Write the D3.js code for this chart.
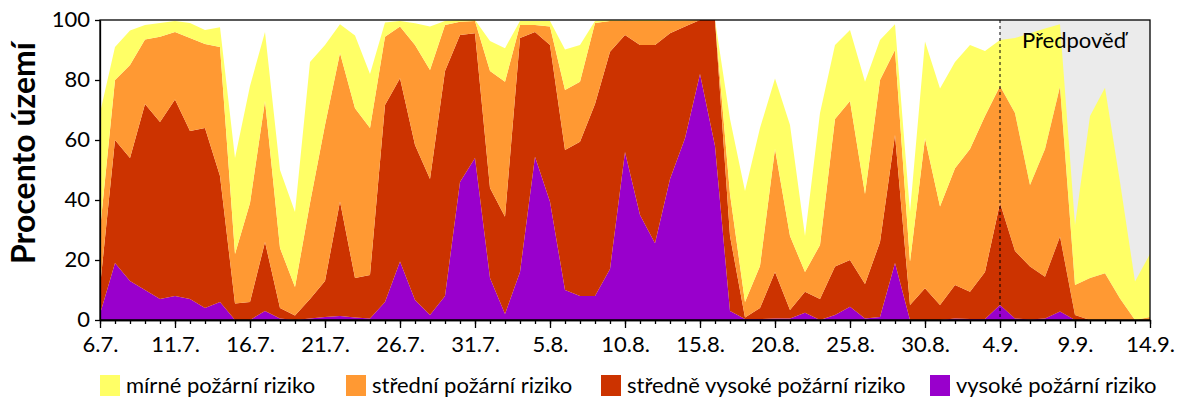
<!DOCTYPE html>
<html>
<head>
<meta charset="utf-8">
<script src="https://cdn.jsdelivr.net/npm/d3@7"></script>
<style>
    body { margin: 0; background: #fff; }
    #chart { width: 1200px; height: 400px; }
    text { font-family: Lato, Carlito, Calibri, sans-serif; fill: #000; }
</style>
</head>
<body>
<div id="chart"></div>
<script>
// first day, last day and start of the forecast (d.m.)
const startDay = "6.7.";
const endDay = "14.9.";
const forecastDay = "4.9.";

const tickLabels = ["6.7.", "11.7.", "16.7.", "21.7.", "26.7.", "31.7.", "5.8.", "10.8.",
    "15.8.", "20.8.", "25.8.", "30.8.", "4.9.", "9.9.", "14.9."];
const yTicks = [0, 20, 40, 60, 80, 100];

// percent of territory per day, one value per day from 6.7. to 14.9.
const vysoke = [2, 19, 13, 10, 7, 8, 7, 4, 6, 0,
    0, 3, 0.5, 0, 0.5, 1, 1.3, 0.8, 0.5, 6,
    19.5, 6.7, 1.7, 8, 46, 54, 14, 2, 16, 54.4,
    39.4, 10, 8, 8, 17, 56, 35, 25.6, 47, 60.6,
    82, 58, 3, 0.3, 0.3, 0.5, 0.5, 2.4, 0, 1.7,
    4.4, 0.5, 1, 19, 0, 0, 0, 0.5, 0.3, 0.3,
    5, 0.5, 0.2, 0.5, 2.8, 0, 0, 0, 0, 0, 0];
const stredneVysoke = [9, 41, 41, 62, 59, 65.5, 56, 60, 42, 5.5,
    6, 23, 3.5, 1.5, 6.5, 12, 38.2, 13.2, 14.5, 65.7,
    61.1, 51.6, 45.3, 75, 49, 41.6, 30, 32.4, 78, 41.6,
    52.3, 46.7, 51.4, 64, 72.4, 39, 56.7, 66.1, 48.6, 37.2,
    18, 42, 25, 0.5, 3.7, 15.5, 2.8, 7, 7, 16.1,
    15.6, 11.5, 25, 42.7, 5, 10.6, 5, 11.2, 9.1, 15.7,
    34, 22.5, 17.6, 13.9, 25, 1.7, 0, 0, 0, 0, 0];
const stredni = [19, 20, 31, 21.5, 28.4, 22.5, 31, 28, 43, 16.5,
    33, 47, 20, 9.5, 32, 52, 49.5, 56.6, 49, 22.7,
    17.2, 33.4, 36.3, 15.3, 4.4, 4.1, 39, 45, 4.3, 2.3,
    6.1, 20, 20, 27, 10.3, 4.8, 8, 8, 4.2, 2,
    0, 0, 14, 5.2, 14, 41, 24.7, 6.6, 18, 49.2,
    53, 30, 54, 28.3, 14.4, 50, 32.8, 38.9, 47.6, 52,
    39, 46, 27.2, 42.6, 50, 10, 14, 15.6, 7.2, 0, 1];
const mirne = [39, 11, 11.5, 4.8, 4.6, 3.7, 5, 4.7, 6.6, 32,
    39, 23, 26, 25, 47, 26.7, 9.6, 24.2, 18, 4.8,
    1.9, 7.2, 14.5, 1.4, 0.6, 0.3, 10, 11.2, 1.4, 1.4,
    1.9, 13.5, 12.3, 0.7, 0.3, 0.2, 0.3, 0.3, 0.2, 0.2,
    0, 0, 25, 37, 46, 23.5, 37, 12, 44, 24.7,
    23.7, 37.4, 13.3, 8.6, 16.6, 32.2, 39.4, 35.4, 34.7, 21.7,
    15.3, 25, 50.6, 40.2, 20.8, 20, 54, 61.8, 38.8, 12.8, 21];

const keys = ["vysoke", "stredneVysoke", "stredni", "mirne"];
const names = {
    mirne: "mírné požární riziko",
    stredni: "střední požární riziko",
    stredneVysoke: "středně vysoké požární riziko",
    vysoke: "vysoké požární riziko"
};
const colors = {
    mirne: "#ffff66",
    stredni: "#ff9933",
    stredneVysoke: "#cc3300",
    vysoke: "#9900cc"
};

let parseDay = s => d3.timeParse("%d.%m.%Y")(s + "2015");

let margin = {top: 20, right: 50, bottom: 80, left: 100};
let width = 1200 - margin.left - margin.right;
let height = 400 - margin.top - margin.bottom;

let svg = d3.select("#chart").append("svg")
    .attr("width", 1200)
    .attr("height", 400);

let g = svg.append("g")
    .attr("transform", "translate(" + margin.left + "," + margin.top + ")");

let dates = d3.timeDay.range(parseDay(startDay), d3.timeDay.offset(parseDay(endDay), 1));
let rows = dates.map((d, i) => ({
    date: d,
    vysoke: vysoke[i],
    stredneVysoke: stredneVysoke[i],
    stredni: stredni[i],
    mirne: mirne[i]
}));

let x = d3.scaleTime()
    .domain([parseDay(startDay), parseDay(endDay)])
    .range([0, width]);

let y = d3.scaleLinear()
    .domain([0, 100])
    .range([height, 0]);

// forecast background
g.append("rect")
    .attr("x", x(parseDay(forecastDay)))
    .attr("y", 0)
    .attr("width", width - x(parseDay(forecastDay)))
    .attr("height", height)
    .attr("fill", "#ebebeb");

g.append("clipPath").attr("id", "clip")
    .append("rect").attr("width", width).attr("height", height);

let stack = d3.stack().keys(keys);
let area = d3.area()
    .x(d => x(d.data.date))
    .y0(d => y(d[0]))
    .y1(d => y(Math.min(100, d[1])));

g.append("g").attr("clip-path", "url(#clip)")
    .selectAll("path")
    .data(stack(rows))
    .enter().append("path")
    .attr("d", area)
    .attr("fill", d => colors[d.key]);

// forecast divider
g.append("line")
    .attr("x1", x(parseDay(forecastDay)))
    .attr("x2", x(parseDay(forecastDay)))
    .attr("y1", 0)
    .attr("y2", height)
    .attr("stroke", "#000")
    .attr("stroke-width", 1)
    .attr("stroke-dasharray", "3,3");

g.append("text")
    .attr("x", x(parseDay(forecastDay)) + 22)
    .attr("y", 28)
    .style("font-size", "22px")
    .text("Předpověď");

// axes
let yAxis = d3.axisLeft(y)
    .tickValues(yTicks)
    .tickSize(5)
    .tickSizeOuter(0)
    .tickPadding(5);

g.append("g")
    .attr("class", "y-axis axis")
    .call(yAxis)
    .call(a => a.selectAll("text").style("font-size", "22px").attr("fill", "#000").attr("dy", "0.3em"));

let xMinor = d3.axisBottom(x)
    .ticks(d3.timeDay.every(1))
    .tickSize(4)
    .tickSizeOuter(0)
    .tickFormat("");

g.append("g")
    .attr("class", "x-axis minor")
    .attr("transform", "translate(0," + height + ")")
    .call(xMinor);

let xAxis = d3.axisBottom(x)
    .tickValues(tickLabels.map(parseDay))
    .tickSize(8)
    .tickSizeOuter(0)
    .tickPadding(8)
    .tickFormat((d, i) => tickLabels[i]);

g.append("g")
    .attr("class", "x-axis axis")
    .attr("transform", "translate(0," + height + ")")
    .call(xAxis)
    .call(a => a.selectAll("text").style("font-size", "22px").attr("fill", "#000"));

g.selectAll(".axis line, .minor line, .axis path, .minor path").attr("stroke", "#000").attr("stroke-width", 1.3);

// plot frame
g.append("rect")
    .attr("width", width)
    .attr("height", height)
    .attr("fill", "none")
    .attr("stroke", "#000")
    .attr("stroke-width", 1.3);

// Y label
svg.append("text")
    .attr("text-anchor", "middle")
    .attr("transform", "translate(35,153) rotate(-90)")
    .style("font-size", "32px")
    .style("font-weight", "bold")
    .text("Procento území");

// legend
let legendOrder = ["mirne", "stredni", "stredneVysoke", "vysoke"];
let legendX = [100, 346, 601, 930];
let legend = svg.append("g").attr("class", "legend");
legendOrder.forEach((k, i) => {
    let item = legend.append("g").attr("transform", "translate(" + legendX[i] + ",375)");
    item.append("rect")
        .attr("width", 20)
        .attr("height", 21)
        .attr("fill", colors[k]);
    item.append("text")
        .attr("x", 26)
        .attr("y", 18)
        .style("font-size", "22px")
        .text(names[k]);
});
</script>
</body>
</html>
